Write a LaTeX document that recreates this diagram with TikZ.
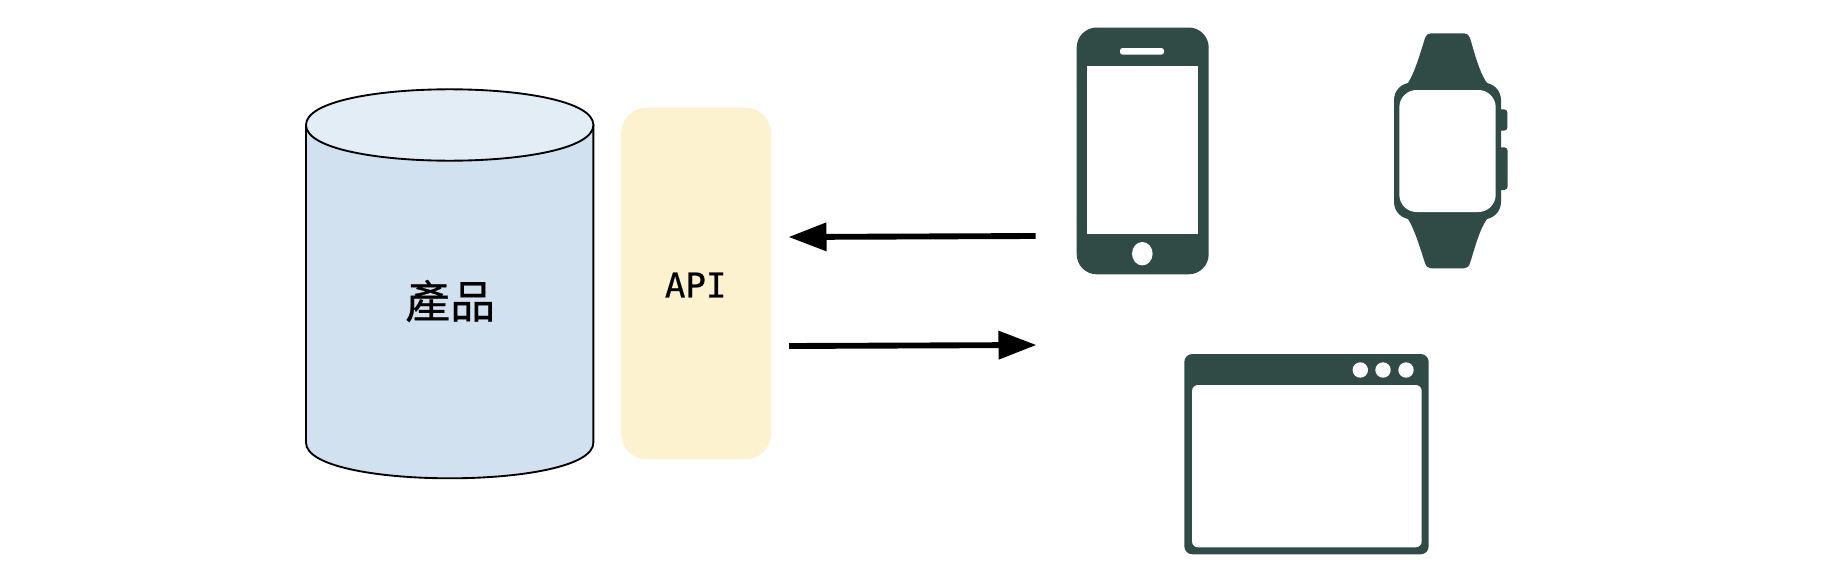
\documentclass[tikz,border=0pt]{standalone}
\usepackage{fontspec}
\usetikzlibrary{arrows.meta}
\newfontfamily\cjkfont[FakeBold=0.6]{Noto Sans CJK TC}
\newfontfamily\apifont[FakeBold=0.6]{DejaVu Sans Mono}
\definecolor{cylbody}{HTML}{D2E1F0}
\definecolor{cyltop}{HTML}{E2EDF6}
\definecolor{apifill}{HTML}{FDF2D0}
\definecolor{icondark}{HTML}{304A45}
\tikzset{
  cylline/.style={draw=black,line width=1.4},
  iconfill/.style={fill=icondark},
  iconhole/.style={fill=white},
  flowarrow/.style={line width=4.4,-{Triangle[length=28.5pt,width=20.5pt]}},
}
\begin{document}
\begin{tikzpicture}[x=0.75pt,y=0.75pt,yscale=-1,xscale=1]
\useasboundingbox (0,0) rectangle (1838,578);

%Shape: Cylinder
\path [cylline,fill=cylbody] (306,125) -- (306,442.6) .. controls (306,490.2) and (593.4,490.2) .. (593.4,442.6) -- (593.4,125) -- cycle ;
\path [cylline,fill=cyltop] (306,125) .. controls (306,77.4) and (593.4,77.4) .. (593.4,125) .. controls (593.4,172.6) and (306,172.6) .. (306,125) -- cycle ;

%Shape: Rounded Rect
\path [fill=apifill,rounded corners=19pt] (621.2,107.7) rectangle (771,459.3);

%Shape: Phone
\path [iconfill,rounded corners=15pt] (1076.7,27.5) rectangle (1208.7,274.3);
\path [iconhole] (1087,65.5) rectangle (1198.3,234.3);
\path [iconhole,rounded corners=2pt] (1120,48) rectangle (1164,54.7);
\path [iconhole] (1142.3,253.7) ellipse [x radius=10.3,y radius=11.7];

%Shape: Watch
\path [iconfill,rounded corners=2.5pt] (1490,109.3) rectangle (1507.4,130.7) (1490,147.3) rectangle (1507.6,190);
\path [iconfill] (1408,83) .. controls (1415,72) and (1421,51) .. (1425,38) .. controls (1426,35) and (1428,33.3) .. (1431,33.3) -- (1464,33.3) .. controls (1467,33.3) and (1469,35) .. (1470,38) .. controls (1474,51) and (1479,72) .. (1487,83) -- cycle ;
\path [iconfill] (1408,219) .. controls (1415,230) and (1421,251) .. (1425,263) .. controls (1426,266.5) and (1428,268.3) .. (1431,268.3) -- (1464,268.3) .. controls (1467,268.3) and (1469,266.5) .. (1470,263) .. controls (1474,251) and (1479,230) .. (1487,219) -- cycle ;
\path [iconfill,rounded corners=13pt] (1394,82.7) rectangle (1501,219.3);
\path [iconhole,rounded corners=13pt] (1399.3,90) rectangle (1495.7,212);

%Shape: Browser
\path [iconfill,rounded corners=6pt] (1184.3,354) rectangle (1428.7,554.3);
\path [iconhole,rounded corners=4.5pt] (1192,385) rectangle (1421.7,547.3);
\foreach \cx in {1360.3,1383,1406}
  \path [iconhole] (\cx,370) circle [radius=7.7];

% Text Node
\node (product) at (450.2,301) {\fontsize{33.7pt}{40pt}\cjkfont 產品};
% Text Node
\node (api) at (695.7,285) {\fontsize{25.6pt}{30pt}\apifont API};

%Straight Lines
\coordinate (apiin) at (788.5,237);
\coordinate (phoneout) at (1035.7,236);
\coordinate (apiout) at (789,346);
\coordinate (browserin) at (1036.5,345);
\draw [flowarrow] (phoneout) -- (apiin);
\draw [flowarrow] (apiout) -- (browserin);

\end{tikzpicture}
\end{document}
